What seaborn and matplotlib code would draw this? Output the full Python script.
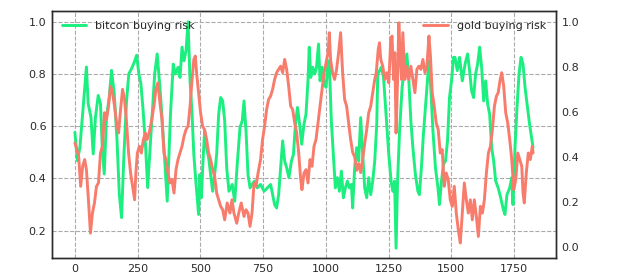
import matplotlib
matplotlib.use("Agg")
import matplotlib.pyplot as plt
import seaborn as sns
import pandas as pd

# ---- data ----
btc_day = [0, 10, 20, 33, 46, 53, 64, 73, 82, 93, 102, 109, 117, 126, 137, 146, 157, 168, 177, 186,
           195, 206, 215, 226, 237, 246, 255, 263, 272, 282, 290, 304, 318, 328, 342, 355, 368, 381, 392,
           400, 411, 419, 427, 435, 443, 451, 459, 467, 474, 482, 493, 498, 504, 510, 517, 525, 533, 541,
           549, 557, 565, 573, 581, 589, 597, 605, 614, 627, 637, 647, 658, 667, 674, 682, 690, 698, 706,
           716, 727, 740, 754, 767, 780, 788, 796, 804, 812, 820, 828, 836, 844, 853, 863, 871, 879, 887,
           894, 904, 913, 921, 929, 934, 940, 948, 956, 963, 971, 977, 985, 993, 1001, 1009, 1014, 1022,
           1030, 1038, 1046, 1054, 1062, 1070, 1078, 1086, 1094, 1102, 1107, 1115, 1123, 1131, 1139, 1147,
           1155, 1163, 1171, 1179, 1187, 1195, 1203, 1207, 1221, 1230, 1240, 1251, 1260, 1267, 1274, 1280,
           1286, 1294, 1304, 1314, 1323, 1331, 1339, 1347, 1357, 1367, 1373, 1381, 1389, 1400, 1411, 1419,
           1427, 1437, 1447, 1453, 1461, 1469, 1477, 1485, 1493, 1501, 1509, 1515, 1524, 1533, 1544, 1555,
           1565, 1573, 1581, 1589, 1597, 1605, 1613, 1621, 1629, 1637, 1645, 1653, 1661, 1669, 1677, 1687,
           1697, 1706, 1714, 1722, 1733, 1741, 1746, 1754, 1762, 1770, 1778, 1786, 1794, 1804, 1812, 1820,
           1826]
btc_risk = [0.577, 0.468, 0.519, 0.673, 0.827, 0.686, 0.635, 0.494, 0.635, 0.718, 0.686, 0.519, 0.417,
            0.635, 0.712, 0.814, 0.724, 0.545, 0.340, 0.250, 0.481, 0.699, 0.801, 0.821, 0.846, 0.872,
            0.801, 0.763, 0.660, 0.519, 0.365, 0.582, 0.800, 0.877, 0.710, 0.518, 0.313, 0.646, 0.838,
            0.800, 0.826, 0.787, 0.903, 0.851, 0.890, 1.000, 0.774, 0.646, 0.492, 0.390, 0.262, 0.415,
            0.326, 0.454, 0.582, 0.518, 0.479, 0.415, 0.351, 0.415, 0.492, 0.646, 0.710, 0.697, 0.621,
            0.441, 0.351, 0.377, 0.313, 0.454, 0.595, 0.621, 0.697, 0.582, 0.415, 0.364, 0.377, 0.390,
            0.364, 0.377, 0.351, 0.364, 0.377, 0.338, 0.300, 0.287, 0.338, 0.441, 0.544, 0.467, 0.441,
            0.403, 0.467, 0.492, 0.608, 0.672, 0.621, 0.531, 0.608, 0.646, 0.774, 0.903, 0.787, 0.826,
            0.800, 0.826, 0.915, 0.774, 0.826, 0.762, 0.749, 0.851, 0.838, 0.621, 0.492, 0.364, 0.403,
            0.351, 0.428, 0.326, 0.364, 0.390, 0.364, 0.377, 0.287, 0.441, 0.518, 0.467, 0.633, 0.492,
            0.364, 0.326, 0.403, 0.338, 0.390, 0.467, 0.608, 0.800, 0.826, 0.787, 0.646, 0.492, 0.390,
            0.351, 0.390, 0.133, 0.390, 0.582, 0.749, 0.826, 0.877, 0.774, 0.621, 0.518, 0.415, 0.351,
            0.338, 0.441, 0.569, 0.710, 0.851, 0.736, 0.582, 0.441, 0.364, 0.300, 0.390, 0.454, 0.467,
            0.544, 0.710, 0.774, 0.864, 0.864, 0.813, 0.864, 0.774, 0.838, 0.877, 0.813, 0.736, 0.710,
            0.800, 0.838, 0.903, 0.826, 0.697, 0.774, 0.685, 0.646, 0.518, 0.467, 0.390, 0.364, 0.326,
            0.287, 0.262, 0.338, 0.364, 0.403, 0.300, 0.518, 0.672, 0.800, 0.864, 0.838, 0.749, 0.672,
            0.608, 0.556, 0.518]

gold_day = [0, 8, 15, 23, 31, 39, 46, 54, 62, 70, 78, 86, 94, 102, 110, 118, 126, 134, 142, 150, 158,
            166, 174, 182, 190, 198, 206, 214, 222, 230, 238, 243, 249, 257, 265, 273, 281, 288, 296, 304,
            315, 323, 331, 339, 347, 355, 363, 371, 379, 387, 395, 403, 411, 419, 427, 435, 443, 451, 459,
            467, 474, 480, 485, 493, 501, 509, 517, 525, 533, 541, 549, 557, 565, 573, 581, 589, 597, 607,
            618, 626, 634, 645, 653, 663, 674, 682, 690, 698, 706, 714, 722, 730, 740, 748, 756, 764, 772,
            780, 788, 796, 804, 812, 820, 828, 836, 844, 852, 860, 868, 876, 884, 892, 900, 905, 913, 921,
            929, 937, 945, 953, 961, 969, 977, 985, 993, 1001, 1009, 1014, 1019, 1027, 1035, 1043, 1051,
            1059, 1067, 1075, 1083, 1091, 1099, 1107, 1115, 1123, 1131, 1139, 1147, 1155, 1163, 1171, 1179,
            1187, 1195, 1201, 1209, 1214, 1219, 1227, 1235, 1243, 1251, 1259, 1264, 1270, 1275, 1280, 1286,
            1291, 1296, 1302, 1307, 1315, 1323, 1331, 1339, 1347, 1355, 1363, 1371, 1379, 1387, 1395, 1403,
            1411, 1417, 1424, 1432, 1440, 1448, 1456, 1464, 1472, 1480, 1488, 1496, 1504, 1512, 1520, 1528,
            1536, 1544, 1552, 1560, 1568, 1576, 1584, 1592, 1600, 1608, 1616, 1624, 1632, 1640, 1648, 1656,
            1664, 1672, 1680, 1687, 1695, 1701, 1709, 1717, 1725, 1733, 1741, 1749, 1757, 1765, 1773, 1781,
            1786, 1791, 1799, 1807, 1815, 1823, 1826]
gold_risk = [0.462, 0.432, 0.402, 0.269, 0.358, 0.388, 0.343, 0.209, 0.061, 0.150, 0.195, 0.269, 0.284,
             0.417, 0.447, 0.596, 0.566, 0.625, 0.714, 0.685, 0.625, 0.551, 0.506, 0.610, 0.700, 0.655,
             0.551, 0.417, 0.328, 0.269, 0.209, 0.328, 0.417, 0.447, 0.417, 0.477, 0.506, 0.477, 0.506,
             0.551, 0.625, 0.700, 0.729, 0.640, 0.566, 0.417, 0.388, 0.328, 0.284, 0.298, 0.239, 0.343,
             0.388, 0.417, 0.447, 0.492, 0.521, 0.536, 0.625, 0.744, 0.833, 0.848, 0.774, 0.685, 0.596,
             0.536, 0.521, 0.477, 0.417, 0.388, 0.343, 0.313, 0.239, 0.209, 0.180, 0.165, 0.120, 0.195,
             0.150, 0.209, 0.150, 0.105, 0.150, 0.195, 0.135, 0.165, 0.150, 0.091, 0.150, 0.284, 0.269,
             0.328, 0.388, 0.477, 0.536, 0.610, 0.655, 0.670, 0.700, 0.744, 0.774, 0.789, 0.803, 0.774,
             0.833, 0.789, 0.714, 0.625, 0.610, 0.551, 0.506, 0.417, 0.298, 0.254, 0.328, 0.343, 0.284,
             0.388, 0.358, 0.447, 0.477, 0.551, 0.625, 0.700, 0.774, 0.818, 0.863, 0.952, 0.833, 0.774,
             0.744, 0.789, 0.863, 0.952, 0.774, 0.655, 0.625, 0.551, 0.477, 0.420, 0.400, 0.340, 0.370,
             0.330, 0.390, 0.460, 0.521, 0.596, 0.625, 0.685, 0.744, 0.774, 0.878, 0.907, 0.833, 0.803,
             0.744, 0.774, 0.729, 0.922, 0.937, 0.744, 0.863, 0.506, 0.744, 0.996, 0.863, 0.744, 0.952,
             0.744, 0.803, 0.744, 0.803, 0.744, 0.685, 0.789, 0.803, 0.789, 0.833, 0.774, 0.803, 0.937,
             0.848, 0.685, 0.625, 0.551, 0.521, 0.417, 0.432, 0.269, 0.328, 0.298, 0.209, 0.180, 0.269,
             0.150, 0.076, 0.017, 0.150, 0.284, 0.209, 0.150, 0.209, 0.120, 0.209, 0.135, 0.046, 0.180,
             0.150, 0.209, 0.328, 0.417, 0.447, 0.521, 0.625, 0.670, 0.685, 0.744, 0.774, 0.714, 0.596,
             0.551, 0.477, 0.388, 0.254, 0.298, 0.417, 0.388, 0.358, 0.239, 0.195, 0.328, 0.417, 0.388,
             0.447, 0.417]

btc_label = "bitcon buying risk"
gold_label = "gold buying risk"

btc_df = pd.DataFrame({"day": btc_day, "risk": btc_risk})
gold_df = pd.DataFrame({"day": gold_day, "risk": gold_risk})

# ---- style ----
sns.set_theme(style="whitegrid")
plt.rcParams["font.family"] = ["DejaVu Sans"]
plt.rcParams.update({
    "font.size": 8,
    "axes.edgecolor": "#2b2b2b",
    "axes.linewidth": 1.0,
    "grid.color": "#aaaaaa",
    "grid.linestyle": "--",
    "grid.linewidth": 0.8,
    "xtick.color": "#2b2b2b",
    "ytick.color": "#2b2b2b",
    "xtick.labelsize": 8,
    "ytick.labelsize": 8,
    "legend.fontsize": 8,
})

fig = plt.figure(figsize=(6.3, 2.79), dpi=100)
ax = fig.add_axes([0.0825, 0.075, 0.8, 0.887])
ax2 = ax.twinx()

green = "#1cee80"
red = "#f87c6c"

sns.lineplot(data=btc_df, x="day", y="risk", ax=ax, color=green, linewidth=2.1, label=btc_label)
sns.lineplot(data=gold_df, x="day", y="risk", ax=ax2, color=red, linewidth=2.1, label=gold_label)

ax.set_xlim(-91.3, 1917.3)
ax.set_ylim(0.095, 1.043)
ax2.set_ylim(-0.05, 1.05)
ax.set_yticks([0.2, 0.4, 0.6, 0.8, 1.0])
ax2.set_yticks([0.0, 0.2, 0.4, 0.6, 0.8, 1.0])
ax.set_xticks([0, 250, 500, 750, 1000, 1250, 1500, 1750])

ax.set_xlabel("")
ax.set_ylabel("")
ax2.set_ylabel("")
ax2.grid(False)
ax.grid(True, linestyle="--", color="#aaaaaa", linewidth=0.8)

for a in (ax, ax2):
    a.tick_params(length=0, pad=4, labelsize=8, colors="#2b2b2b")
    for s in a.spines.values():
        s.set_color("#2b2b2b")
        s.set_linewidth(1.0)

ax.legend(loc="upper left", frameon=False, fontsize=8, handlelength=2.2)
ax2.legend(loc="upper right", frameon=False, fontsize=8, handlelength=2.2)

fig.savefig("out.png", dpi=100)
